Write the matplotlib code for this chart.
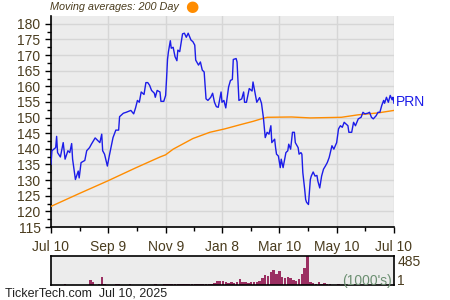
import pandas as pd
import matplotlib.pyplot as plt
import matplotlib.dates as mdates
import matplotlib
import numpy as np

matplotlib.rcParams.update({"font.family": ["Liberation Sans", "DejaVu Sans"]})

START = pd.Timestamp("2024-07-10")
END = pd.Timestamp("2025-07-10")

# PRN close, days after Jul 10 2024
price_day = [0, 1, 5, 6, 7, 10, 13, 15, 18, 20, 22, 23, 26, 29, 30, 32, 36, 38, 41, 43,
             47, 52, 54, 55, 57, 60, 62, 66, 69, 72, 73, 77, 80, 85, 88, 90, 92, 94, 96, 99,
             101, 103, 105, 107, 110, 111, 113, 116, 117, 120, 122, 123, 124, 125, 127, 128, 130, 132, 134, 135,
             137, 140, 142, 144, 146, 149, 151, 153, 154, 157, 159, 161, 163, 165, 167, 170, 172, 174, 176, 178,
             181, 182, 184, 186, 189, 191, 193, 194, 197, 198, 200, 203, 205, 206, 208, 211, 214, 215, 217, 219,
             222, 224, 226, 227, 228, 230, 232, 234, 235, 238, 239, 240, 242, 244, 245, 247, 250, 252, 253, 255,
             257, 259, 260, 263, 264, 266, 267, 268, 270, 271, 272, 274, 276, 277, 279, 281, 283, 284, 286, 288,
             290, 292, 294, 296, 299, 301, 304, 306, 308, 310, 312, 316, 317, 320, 322, 324, 327, 330, 332, 334,
             337, 339, 341, 343, 346, 348, 350, 352, 354, 355, 357, 359, 361, 363, 364, 365]
price = [135.1, 139.4, 140.4, 144.0, 138.8, 137.4, 142.0, 136.7, 139.4, 138.8, 141.7, 136.7, 130.2, 132.9, 130.7, 135.6, 136.3, 139.4, 140.4, 141.5,
         143.5, 142.0, 144.7, 139.4, 138.3, 134.5, 137.7, 143.6, 146.0, 146.0, 150.3, 151.4, 151.7, 152.3, 151.2, 153.1, 155.5, 154.9, 158.2, 157.4,
         161.2, 161.2, 160.3, 158.7, 157.8, 156.5, 158.7, 158.2, 155.2, 155.2, 157.1, 162.5, 168.6, 171.1, 174.6, 172.2, 172.5, 169.5, 168.2, 171.6,
         171.1, 176.8, 177.0, 175.7, 177.0, 174.8, 174.3, 173.2, 168.4, 166.8, 167.8, 165.2, 164.6, 156.0, 155.5, 156.5, 157.8, 154.9, 153.5, 153.3,
         158.2, 154.9, 155.5, 153.1, 159.8, 161.9, 162.2, 168.6, 168.9, 167.8, 155.5, 156.0, 158.2, 154.9, 154.9, 159.3, 158.5, 161.4, 158.2, 154.9,
         156.4, 154.6, 150.1, 146.9, 143.6, 145.3, 144.7, 147.4, 142.0, 143.1, 140.4, 138.3, 137.7, 134.0, 136.7, 134.0, 138.8, 139.4, 141.5, 139.9,
         145.3, 145.3, 142.0, 140.4, 138.3, 138.8, 138.3, 132.4, 127.0, 123.8, 122.9, 122.2, 130.2, 131.3, 132.6, 131.3, 131.5, 129.7, 127.5, 131.3,
         133.5, 134.5, 135.6, 137.2, 141.0, 139.9, 142.0, 146.4, 147.4, 146.9, 148.5, 147.4, 145.3, 145.3, 148.5, 147.4, 149.6, 150.1, 151.7, 151.2,
         151.4, 151.7, 150.1, 149.6, 150.6, 151.7, 151.7, 153.9, 155.5, 154.6, 156.5, 154.9, 157.1, 155.7, 156.5, 154.6]

# 200 day moving average
ma_day = [0, 30, 60, 90, 116, 122, 130, 151, 169, 185, 201, 215, 226, 230, 256, 276, 309, 327, 348, 365]
ma_val = [121.6, 125.7, 129.7, 133.9, 137.4, 138.1, 139.9, 143.3, 145.3, 146.4, 147.7, 148.8, 149.8, 150.1, 150.2,
          149.9, 150.1, 150.9, 151.5, 152.3]

# volume (1000's), every 3 days
volume = [3, 2, 1, 4, 2, 9, 2, 1, 3, 2, 1, 3, 2, 4, 80, 55, 8, 20, 140, 15,
          3, 6, 2, 12, 10, 4, 8, 3, 10, 2, 5, 4, 8, 3, 6, 5, 3, 9, 6, 4,
          10, 12, 15, 10, 18, 12, 15, 20, 14, 18, 12, 20, 16, 22, 18, 25, 15, 22, 40, 70,
          65, 72, 55, 30, 45, 40, 50, 95, 45, 50, 40, 55, 48, 45, 60, 110, 170, 150, 210, 250,
          190, 230, 130, 110, 140, 120, 90, 70, 95, 190, 280, 485, 50, 35, 25, 45, 15, 28, 10, 20,
          8, 5, 12, 3, 6, 2, 8, 3, 5, 2, 4, 6, 1, 3, 2, 5, 1, 3, 2, 4,
          1, 2]

price_dates = START + pd.to_timedelta(price_day, unit="D")
ma_dates = START + pd.to_timedelta(ma_day, unit="D")
vol_dates = pd.date_range(START, periods=len(volume), freq="3D")

TXT = "#4a3c1e"
BG = "#ececec"
GRID = "#d6d6d6"

fig = plt.figure(figsize=(4.5, 3), dpi=100)
ax = fig.add_axes([0.1133, 0.2433, 0.7622, 0.7033])
axv = fig.add_axes([0.1133, 0.05, 0.7622, 0.0967])

# ── precio ──
ax.set_facecolor(BG)
ax.plot(ma_dates, ma_val, color="#ff8c00", lw=1.0, zorder=3)
ax.plot(price_dates, price, color="#1c1ce8", lw=1.0, zorder=4)
ax.set_xlim(START, END)
ax.set_ylim(115, 182.5)

major = pd.to_datetime(["2024-07-10", "2024-09-09", "2024-11-09", "2025-01-08",
                        "2025-03-10", "2025-05-10", "2025-07-10"])
minor = major[:-1] + (major[1:] - major[:-1]) / 2
ax.set_xticks(major)
ax.set_xticks(minor, minor=True)
ax.xaxis.set_major_formatter(mdates.DateFormatter("%b %-d"))
ax.set_yticks(np.arange(115, 181, 5))
ax.set_yticks(np.arange(115, 182.5, 2.5), minor=True)
ax.tick_params(axis="both", which="major", length=4, width=1, colors="black",
               labelcolor=TXT, labelsize=10)
ax.tick_params(axis="both", which="minor", length=3, width=1, colors="black")
ax.tick_params(axis="x", pad=5)
ax.grid(True, which="major", color=GRID, lw=1, zorder=0)
ax.set_axisbelow(True)
for s in ["top", "right"]:
    ax.spines[s].set_visible(False)
ax.spines["left"].set_linewidth(1.2)
ax.spines["bottom"].set_linewidth(1.2)

ax.text(1.005, (price[-1] + 0.5 - 115) / (182.5 - 115), "PRN", transform=ax.transAxes,
        color="#1c1ce8", fontsize=10, va="center", ha="left")

fig.text(0.111, 0.975, "Moving averages: 200 Day", fontsize=7.8, style="italic",
         color=TXT, va="center", ha="left")
fig.text(192 / 450, 0.977, "\u25CF", fontsize=11, color="#ff8c00", va="center", ha="center",
         family="DejaVu Sans")

# ── volumen ──
axv.set_facecolor(BG)
axv.bar(vol_dates, volume, width=2.6, color="#9b2f62", linewidth=0)
axv.set_xlim(START, END)
axv.set_ylim(0, 485)
axv.set_xticks([])
axv.set_yticks([])
for s in axv.spines.values():
    s.set_linewidth(1.2)
axv.text(1.01, 0.78, "485", transform=axv.transAxes, fontsize=10, color=TXT,
         va="center", ha="left")
axv.text(1.01, 0.14, "1", transform=axv.transAxes, fontsize=10, color=TXT,
         va="center", ha="left")
axv.text(0.995, 0.14, "(1000's)", transform=axv.transAxes, fontsize=10, color="#6b8f71",
         va="center", ha="right")

fig.text(0.011, 0.02, "TickerTech.com  Jul 10, 2025", fontsize=9, color="#222222",
         va="center", ha="left")

plt.savefig("out.png", dpi=100)
plt.close()
